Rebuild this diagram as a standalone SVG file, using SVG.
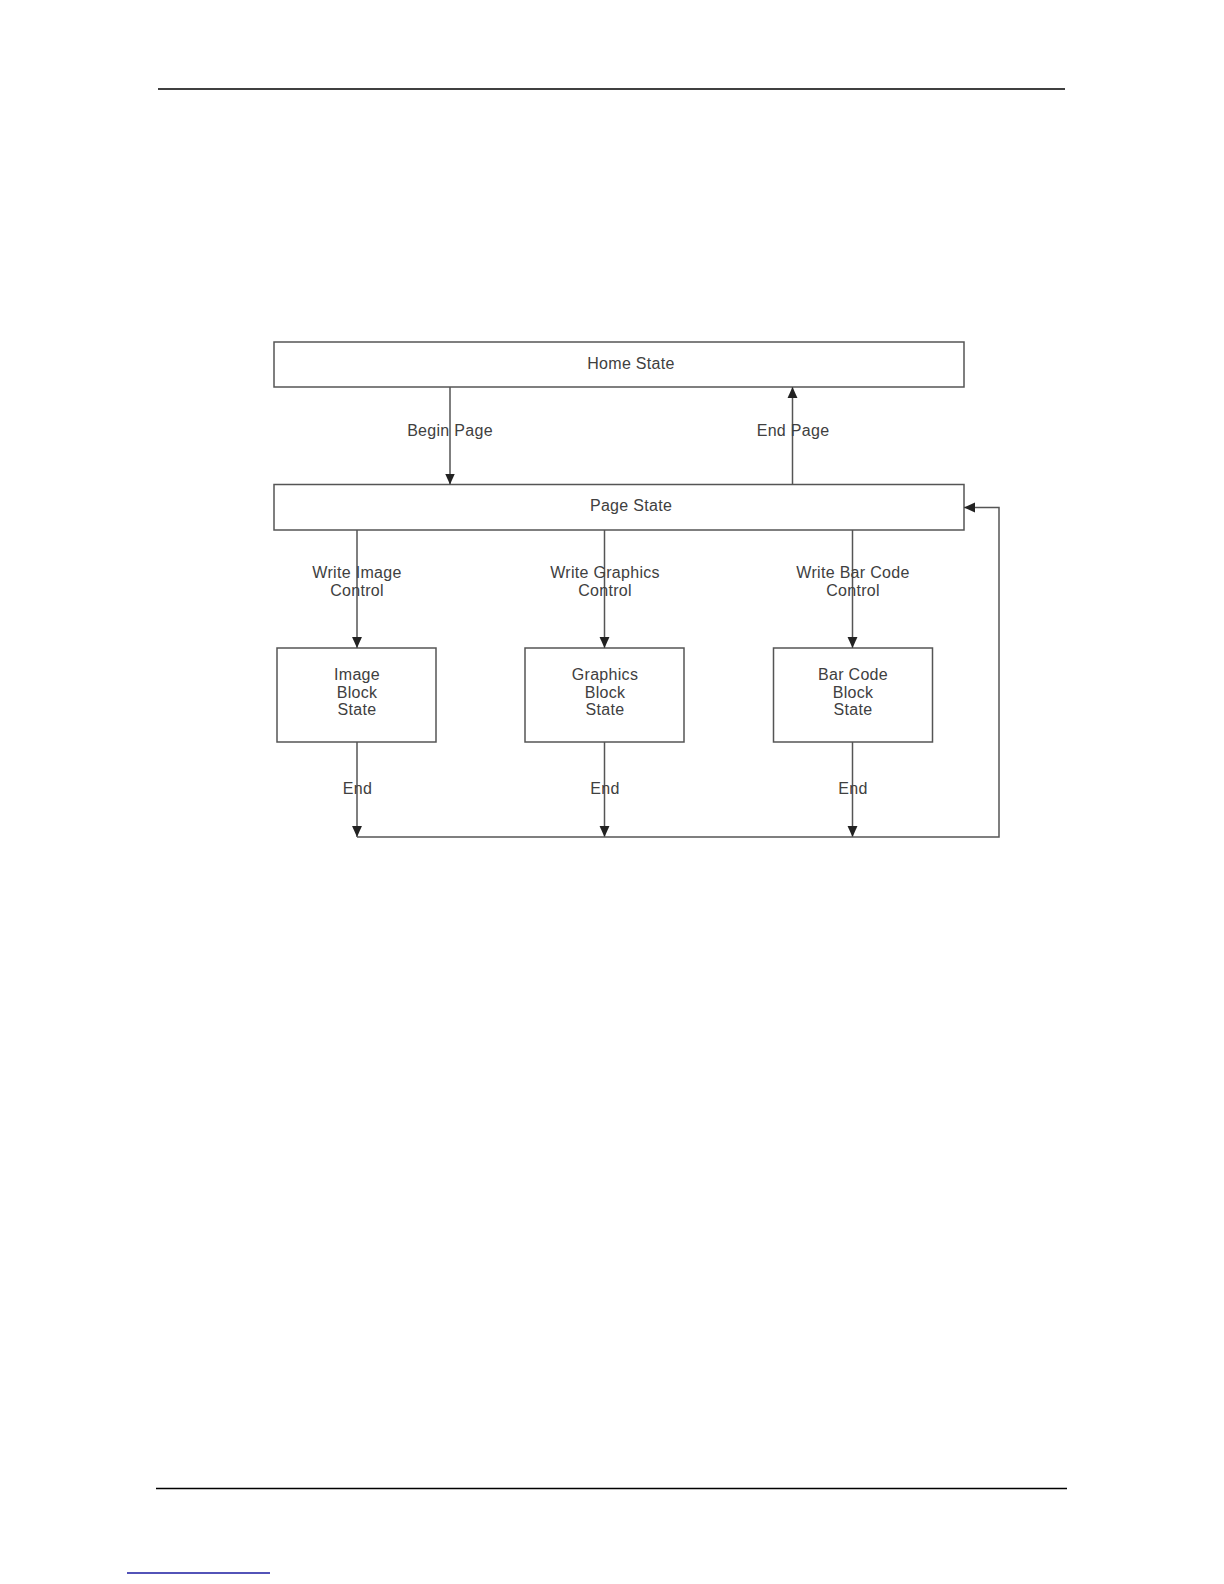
<svg xmlns="http://www.w3.org/2000/svg" width="1224" height="1584" viewBox="0 0 1224 1584">
<defs>
<style>
.box{fill:#fff;stroke:#555;stroke-width:1.5}
.lbl{font-family:"Liberation Sans",Arial,sans-serif;font-size:16px;fill:#404040;text-anchor:middle;letter-spacing:0.3px}
.con{fill:none;stroke:#555;stroke-width:1.5}
.rule{stroke:#000;stroke-width:1.3}
</style>
<marker id="arr" viewBox="0 0 10 10" refX="10" refY="5" markerWidth="11" markerHeight="11" markerUnits="userSpaceOnUse" orient="auto">
<path d="M0,0.5 L10,5 L0,9.5 Z" fill="#222"/>
</marker>
</defs>
<rect width="1224" height="1584" fill="#fff"/>
<line class="rule" x1="158" y1="89" x2="1065" y2="89"/>
<line class="rule" x1="156" y1="1488.5" x2="1067" y2="1488.5"/>
<line x1="127" y1="1573" x2="270" y2="1573" stroke="#1a1aa0" stroke-width="1.3"/>

<g id="home">
<rect class="box" x="274" y="342" width="690" height="45"/>
<text class="lbl" x="631" y="369">Home State</text>
</g>
<g id="page">
<rect class="box" x="274" y="484.5" width="690" height="45.5"/>
<text class="lbl" x="631" y="511">Page State</text>
</g>
<g id="image">
<rect class="box" x="277" y="648" width="159" height="94"/>
<text class="lbl" x="357" y="680">Image</text>
<text class="lbl" x="357" y="697.5">Block</text>
<text class="lbl" x="357" y="715">State</text>
</g>
<g id="graphics">
<rect class="box" x="525" y="648" width="159" height="94"/>
<text class="lbl" x="605" y="680">Graphics</text>
<text class="lbl" x="605" y="697.5">Block</text>
<text class="lbl" x="605" y="715">State</text>
</g>
<g id="barcode">
<rect class="box" x="773.5" y="648" width="159" height="94"/>
<text class="lbl" x="853" y="680">Bar Code</text>
<text class="lbl" x="853" y="697.5">Block</text>
<text class="lbl" x="853" y="715">State</text>
</g>

<g id="connectors">
<line class="con" x1="450" y1="387" x2="450" y2="484.5" marker-end="url(#arr)"/>
<line class="con" x1="792.5" y1="484.5" x2="792.5" y2="387" marker-end="url(#arr)"/>
<line class="con" x1="357" y1="530" x2="357" y2="648" marker-end="url(#arr)"/>
<line class="con" x1="604.5" y1="530" x2="604.5" y2="648" marker-end="url(#arr)"/>
<line class="con" x1="852.5" y1="530" x2="852.5" y2="648" marker-end="url(#arr)"/>
<line class="con" x1="357" y1="742" x2="357" y2="837" marker-end="url(#arr)"/>
<line class="con" x1="604.5" y1="742" x2="604.5" y2="837" marker-end="url(#arr)"/>
<line class="con" x1="852.5" y1="742" x2="852.5" y2="837" marker-end="url(#arr)"/>
<polyline class="con" points="357,837 999,837 999,507.5 964,507.5" marker-end="url(#arr)"/>
<text class="lbl" x="450" y="435.5">Begin Page</text>
<text class="lbl" x="793" y="435.5">End Page</text>
<text class="lbl" x="357" y="577.5">Write Image</text>
<text class="lbl" x="357" y="595.5">Control</text>
<text class="lbl" x="605" y="577.5">Write Graphics</text>
<text class="lbl" x="605" y="595.5">Control</text>
<text class="lbl" x="853" y="577.5">Write Bar Code</text>
<text class="lbl" x="853" y="595.5">Control</text>
<text class="lbl" x="357.5" y="794">End</text>
<text class="lbl" x="605" y="794">End</text>
<text class="lbl" x="853" y="794">End</text>
</g>
</svg>
